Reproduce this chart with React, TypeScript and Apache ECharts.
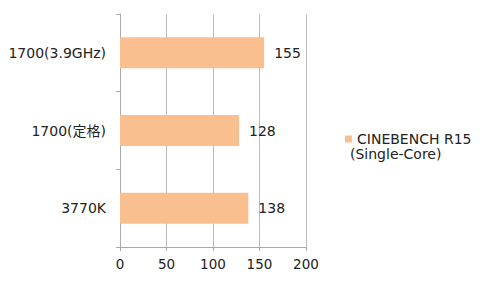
import React, { useEffect, useRef } from "react";
import * as echarts from "echarts";

const categories = ["1700(3.9GHz)", "1700(定格)", "3770K"];
const values = [155, 128, 138];
const seriesName = "CINEBENCH R15";
const seriesSub = "(Single-Core)";
const xTicks = [0, 50, 100, 150, 200];

const FONT = "'DejaVu Sans', 'Noto Sans CJK JP', sans-serif";

export default function App() {
  const ref = useRef<HTMLDivElement>(null);
  useEffect(() => {
    if (!ref.current) return;
    const chart = echarts.init(ref.current, null, { renderer: "svg" });
    chart.setOption({
      animation: false,
      textStyle: { fontFamily: FONT },
      grid: { left: 120, right: 174, top: 14, bottom: 34, containLabel: false },
      legend: {
        data: [seriesName],
        left: 340,
        top: 127,
        itemWidth: 7,
        itemHeight: 7,
        icon: "rect",
        itemGap: 5,
        textStyle: { fontSize: 14, color: "#222", fontFamily: FONT },
      },
      graphic: [
        {
          type: "text",
          left: 350,
          top: 147,
          style: { text: seriesSub, fontSize: 14, fill: "#222", fontFamily: FONT },
        },
      ],
      xAxis: {
        type: "value",
        min: xTicks[0],
        max: xTicks[xTicks.length - 1],
        interval: 50,
        axisLine: { show: true, lineStyle: { color: "#aaa" } },
        axisTick: { show: true, length: 4, lineStyle: { color: "#aaa" } },
        splitLine: { show: true, lineStyle: { color: "#bbb" } },
        axisLabel: { fontSize: 13.5, color: "#222", margin: 10, fontFamily: FONT },
      },
      yAxis: {
        type: "category",
        data: categories,
        inverse: true,
        axisLine: { show: true, lineStyle: { color: "#aaa" } },
        axisTick: { show: true, length: 4, lineStyle: { color: "#aaa" } },
        axisLabel: { fontSize: 14, color: "#222", margin: 14, fontFamily: FONT },
      },
      series: [
        {
          name: seriesName,
          type: "bar",
          data: values,
          barWidth: "40%",
          itemStyle: { color: "#F9BF8F" },
          label: {
            show: true,
            position: "right",
            distance: 10,
            fontSize: 14,
            color: "#222",
            fontFamily: FONT,
          },
        },
      ],
    });
    return () => chart.dispose();
  }, []);
  return (
    <div
      ref={ref}
      style={{ position: "absolute", left: 0, top: 0, width: 480, height: 281 }}
    />
  );
}
